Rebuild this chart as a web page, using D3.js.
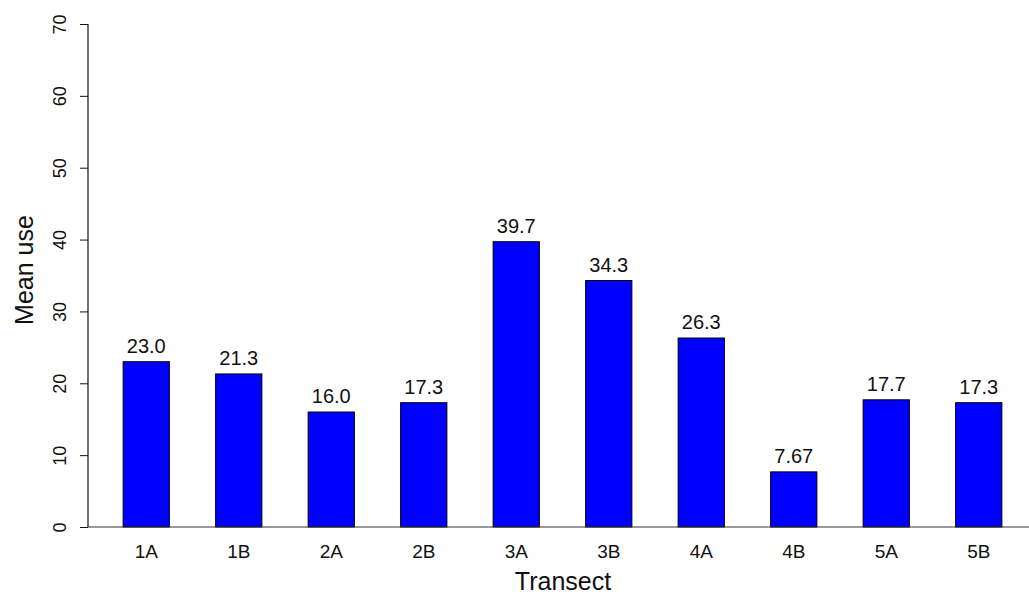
<!DOCTYPE html>
<html lang="en">
<head>
<meta charset="utf-8">
<title>Mean use by transect</title>
<script src="https://cdn.jsdelivr.net/npm/d3@7"></script>
<style>
  body { margin: 0; background: #fff; }
  svg { display: block; font-family: "Liberation Sans", Arial, sans-serif; }
</style>
</head>
<body>
<div id="chart"></div>
<script>
var transects = ["1A", "1B", "2A", "2B", "3A", "3B", "4A", "4B", "5A", "5B"];
var meanUse = [23.0, 21.3, 16.0, 17.3, 39.7, 34.3, 26.3, 7.67, 17.7, 17.3];
var useLabels = ["23.0", "21.3", "16.0", "17.3", "39.7", "34.3", "26.3", "7.67", "17.7", "17.3"];
var yTicks = [0, 10, 20, 30, 40, 50, 60, 70];

var width = 1029, height = 595;

var svg = d3.select("#chart").append("svg")
    .attr("width", width)
    .attr("height", height);

var x = d3.scaleBand()
    .domain(transects)
    .range([100, 1025])
    .paddingInner(0.5)
    .paddingOuter(0.25);

var y = d3.scaleLinear()
    .domain([0, 70])
    .range([527, 24]);

var rows = transects.map(function(t, i) {
  return { name: t, value: meanUse[i], label: useLabels[i] };
});

// bars
svg.append("g")
  .selectAll("rect")
  .data(rows)
  .enter().append("rect")
    .attr("x", function(d) { return x(d.name); })
    .attr("y", function(d) { return y(d.value); })
    .attr("width", x.bandwidth())
    .attr("height", function(d) { return y(0) - y(d.value); })
    .attr("fill", "#0000ff")
    .attr("stroke", "#000")
    .attr("stroke-width", 1);

// value labels
svg.append("g")
  .selectAll("text")
  .data(rows)
  .enter().append("text")
    .attr("x", function(d) { return x(d.name) + x.bandwidth() / 2; })
    .attr("y", function(d) { return y(d.value) - 9; })
    .attr("text-anchor", "middle")
    .attr("font-size", 20)
    .attr("fill", "#111")
    .text(function(d) { return d.label; });

// baseline
svg.append("line")
    .attr("x1", 88).attr("x2", width)
    .attr("y1", y(0)).attr("y2", y(0))
    .attr("stroke", "#333")
    .attr("stroke-width", 1.2);

// y axis
var yAxis = svg.append("g")
    .attr("transform", "translate(88,0)")
    .call(d3.axisLeft(y).tickValues(yTicks).tickSize(8).tickFormat(d3.format("d")));
yAxis.select(".domain").attr("stroke", "#111").attr("stroke-width", 1.2)
    .attr("d", "M0," + y(70) + "V" + y(0));
yAxis.selectAll(".tick line").attr("stroke", "#111");
yAxis.selectAll(".tick text")
    .attr("font-size", 18)
    .attr("fill", "#111")
    .attr("font-family", "Liberation Sans, Arial, sans-serif")
    .attr("transform", "translate(-28,0) rotate(-90)")
    .attr("x", 0).attr("dy", "0.35em")
    .attr("text-anchor", "middle");

// x axis labels (no ticks)
var xAxis = svg.append("g")
    .attr("transform", "translate(0," + y(0) + ")")
    .call(d3.axisBottom(x).tickSize(0).tickPadding(18));
xAxis.select(".domain").remove();
xAxis.selectAll(".tick text")
    .attr("font-size", 19)
    .attr("fill", "#111")
    .attr("font-family", "Liberation Sans, Arial, sans-serif");

// axis titles
svg.append("text")
    .attr("x", 563).attr("y", 590)
    .attr("text-anchor", "middle")
    .attr("font-size", 25)
    .attr("fill", "#111")
    .text("Transect");

svg.append("text")
    .attr("transform", "translate(33,270) rotate(-90)")
    .attr("text-anchor", "middle")
    .attr("font-size", 25)
    .attr("fill", "#111")
    .text("Mean use");
</script>
</body>
</html>
